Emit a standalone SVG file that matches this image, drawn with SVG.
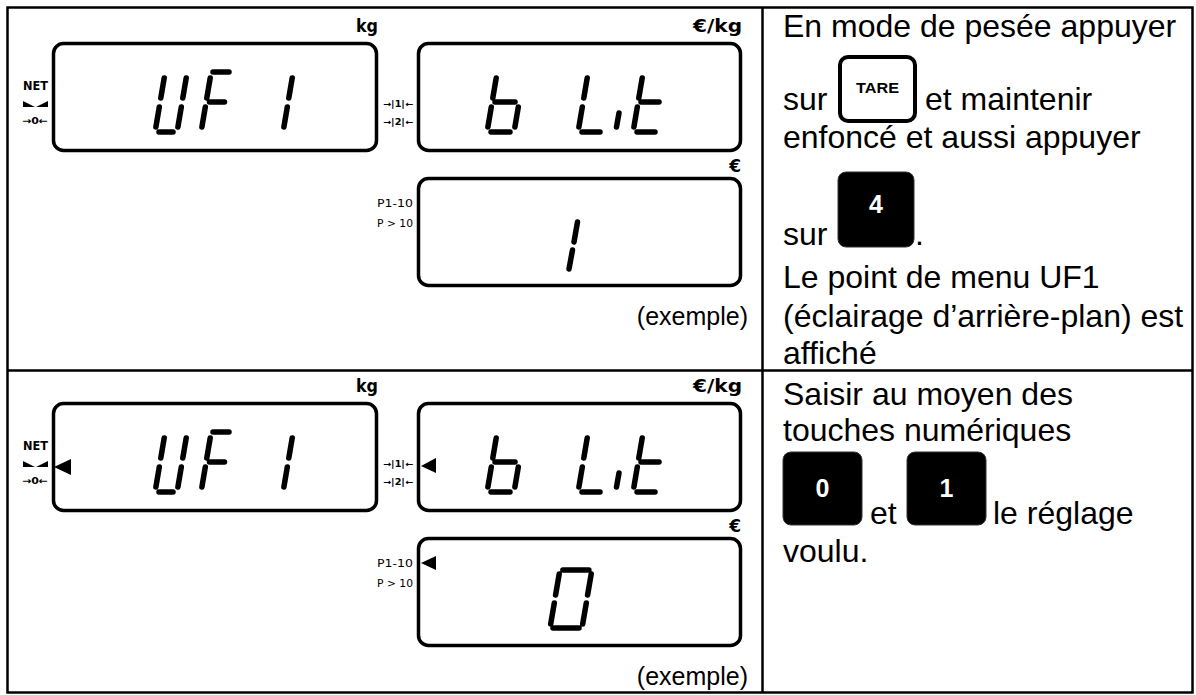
<svg xmlns="http://www.w3.org/2000/svg" width="1196" height="695" viewBox="0 0 1196 695">
<style>
.grid{fill:none;stroke:#000;stroke-width:2.5}
.frame{fill:none;stroke:#000;stroke-width:3.5}
.seg{fill:none;stroke:#000;stroke-width:5.5;stroke-linecap:round}
.lbl{font-family:"DejaVu Sans","Liberation Sans",sans-serif;font-weight:bold;fill:#000}
.sm{font-family:"DejaVu Sans","Liberation Sans",sans-serif;fill:#000}
.txt{font-family:"Liberation Sans",Arial,sans-serif;font-size:32px;fill:#000}
.ex{font-family:"Liberation Sans",Arial,sans-serif;font-size:25px;fill:#000}
.keyw{fill:#fff;stroke:#000;stroke-width:4}
.keyb{fill:#000;stroke:#333;stroke-width:1}
.kt{font-family:"Liberation Sans",Arial,sans-serif;font-weight:bold;text-anchor:middle}
</style>
<rect x="0" y="0" width="1196" height="695" fill="#fff"/>
<g id="table">
<rect class="grid" x="7.5" y="7.5" width="1185" height="685"/>
<line class="grid" x1="762.5" y1="7.5" x2="762.5" y2="692.5"/>
<line class="grid" x1="7.5" y1="370.5" x2="1192.5" y2="370.5"/>
</g>

<g id="row1-displays">
<g id="disp1-weight">
<rect class="frame" x="53.5" y="43.5" width="323" height="107" rx="10"/>
<text class="lbl" x="378" y="32" font-size="17" text-anchor="end" textLength="22" lengthAdjust="spacingAndGlyphs">kg</text>
<text class="lbl" x="23" y="90" font-size="11.5" textLength="25" lengthAdjust="spacingAndGlyphs">NET</text>
<polygon points="23,101 35,107 23,107" fill="#000"/>
<polygon points="36,107 48,101 48,107" fill="#000"/>
<text class="lbl" x="22" y="124" font-size="9.5" textLength="26" lengthAdjust="spacingAndGlyphs">→0←</text>
<path class="seg" d="M164.2,78L160.8,98M159.3,107L155.9,127M186.2,78L182.8,98M181.3,107L177.9,127M159,132L173,132"/>
<path class="seg" d="M213,72L229,72M210.2,78L206.8,98M209.5,102L224.5,102M205.3,107L201.9,127"/>
<path class="seg" d="M292.2,78L288.8,98M287.3,107L283.9,127"/>
</g>
<g id="disp2-unitprice">
<rect class="frame" x="418.5" y="43.5" width="322" height="107" rx="10"/>
<text class="lbl" x="742" y="32" font-size="17" text-anchor="end" textLength="49" lengthAdjust="spacingAndGlyphs">€/kg</text>
<text class="lbl" x="383" y="107" font-size="8.5" textLength="30" lengthAdjust="spacingAndGlyphs">→|1|←</text>
<text class="lbl" x="383" y="125" font-size="8.5" textLength="30" lengthAdjust="spacingAndGlyphs">→|2|←</text>
<path class="seg" d="M496.2,78L492.8,98M491.3,107L487.9,127M495,102L515,102M518.3,107L514.9,127M491,132L510,132"/>
<path class="seg" d="M587.2,78L583.8,98M582.3,107L578.9,127M582,132L600,132"/>
<path class="seg" d="M619,113L616.5,127"/>
<path class="seg" d="M642.2,78L638.8,98M637.3,107L633.9,127M641,102L659,102M637,132L655,132"/>
</g>
<g id="disp3-price">
<rect class="frame" x="418.5" y="178.5" width="322" height="107" rx="10"/>
<text class="lbl" x="741" y="172" font-size="17" text-anchor="end">€</text>
<text class="sm" x="377" y="207" font-size="11" textLength="36" lengthAdjust="spacingAndGlyphs">P1-10</text>
<text class="sm" x="377" y="227" font-size="11" textLength="36" lengthAdjust="spacingAndGlyphs">P &gt; 10</text>
<path class="seg" d="M577.5,222L574,242M572.5,250L569,269"/>
<text class="ex" x="748" y="325" text-anchor="end">(exemple)</text>
</g>
</g>

<g id="row2-displays" transform="translate(0,360)">
<g id="disp1-weight-2">
<rect class="frame" x="53.5" y="43.5" width="323" height="107" rx="10"/>
<text class="lbl" x="378" y="32" font-size="17" text-anchor="end" textLength="22" lengthAdjust="spacingAndGlyphs">kg</text>
<text class="lbl" x="23" y="90" font-size="11.5" textLength="25" lengthAdjust="spacingAndGlyphs">NET</text>
<polygon points="23,101 35,107 23,107" fill="#000"/>
<polygon points="36,107 48,101 48,107" fill="#000"/>
<text class="lbl" x="22" y="124" font-size="9.5" textLength="26" lengthAdjust="spacingAndGlyphs">→0←</text>
<polygon points="54,107 71,99 71,115" fill="#000"/>
<path class="seg" d="M164.2,78L160.8,98M159.3,107L155.9,127M186.2,78L182.8,98M181.3,107L177.9,127M159,132L173,132"/>
<path class="seg" d="M213,72L229,72M210.2,78L206.8,98M209.5,102L224.5,102M205.3,107L201.9,127"/>
<path class="seg" d="M292.2,78L288.8,98M287.3,107L283.9,127"/>
</g>
<g id="disp2-unitprice-2">
<rect class="frame" x="418.5" y="43.5" width="322" height="107" rx="10"/>
<text class="lbl" x="742" y="32" font-size="17" text-anchor="end" textLength="49" lengthAdjust="spacingAndGlyphs">€/kg</text>
<text class="lbl" x="383" y="107" font-size="8.5" textLength="30" lengthAdjust="spacingAndGlyphs">→|1|←</text>
<text class="lbl" x="383" y="125" font-size="8.5" textLength="30" lengthAdjust="spacingAndGlyphs">→|2|←</text>
<polygon points="421,106 436,98 436,113" fill="#000"/>
<path class="seg" d="M496.2,78L492.8,98M491.3,107L487.9,127M495,102L515,102M518.3,107L514.9,127M491,132L510,132"/>
<path class="seg" d="M587.2,78L583.8,98M582.3,107L578.9,127M582,132L600,132"/>
<path class="seg" d="M619,113L616.5,127"/>
<path class="seg" d="M642.2,78L638.8,98M637.3,107L633.9,127M641,102L659,102M637,132L655,132"/>
</g>
<g id="disp3-price-2">
<rect class="frame" x="418.5" y="178.5" width="322" height="107" rx="10"/>
<text class="lbl" x="741" y="172" font-size="17" text-anchor="end">€</text>
<text class="sm" x="377" y="207" font-size="11" textLength="36" lengthAdjust="spacingAndGlyphs">P1-10</text>
<text class="sm" x="377" y="227" font-size="11" textLength="36" lengthAdjust="spacingAndGlyphs">P &gt; 10</text>
<polygon points="421,203 436,196 436,210" fill="#000"/>
<path class="seg" d="M562.9,210L588.9,210M591.2,214L587.6,235M586.3,243L582.7,264M553,268L579,268M554.3,243L550.7,264M559.2,214L555.6,235"/>
<text class="ex" x="748" y="325" text-anchor="end">(exemple)</text>
</g>
</g>

<g id="instr1">
<text class="txt" x="783" y="37">En mode de pesée appuyer</text>
<rect class="keyw" x="840" y="57" width="75" height="64" rx="8"/>
<text class="kt" x="877.5" y="93" font-size="15" textLength="43" lengthAdjust="spacingAndGlyphs">TARE</text>
<text class="txt" x="783" y="110">sur</text>
<text class="txt" x="925" y="110">et maintenir</text>
<text class="txt" x="783" y="148">enfoncé et aussi appuyer</text>
<rect class="keyb" x="838" y="172" width="76" height="75" rx="8"/>
<text class="kt" x="876" y="213" font-size="25" fill="#fff">4</text>
<text class="txt" x="783" y="245">sur</text>
<text class="txt" x="915" y="245">.</text>
<text class="txt" x="783" y="288">Le point de menu UF1</text>
<text class="txt" x="783" y="327">(éclairage d’arrière-plan) est</text>
<text class="txt" x="783" y="364">affiché</text>
</g>

<g id="instr2">
<text class="txt" x="783" y="405">Saisir au moyen des</text>
<text class="txt" x="783" y="441">touches numériques</text>
<rect class="keyb" x="783" y="452" width="79" height="73" rx="8"/>
<text class="kt" x="822.5" y="497" font-size="25" fill="#fff">0</text>
<text class="txt" x="870" y="524">et</text>
<rect class="keyb" x="907" y="452" width="79" height="73" rx="8"/>
<text class="kt" x="946.5" y="497" font-size="25" fill="#fff">1</text>
<text class="txt" x="993" y="524">le réglage</text>
<text class="txt" x="783" y="562">voulu.</text>
</g>
</svg>
